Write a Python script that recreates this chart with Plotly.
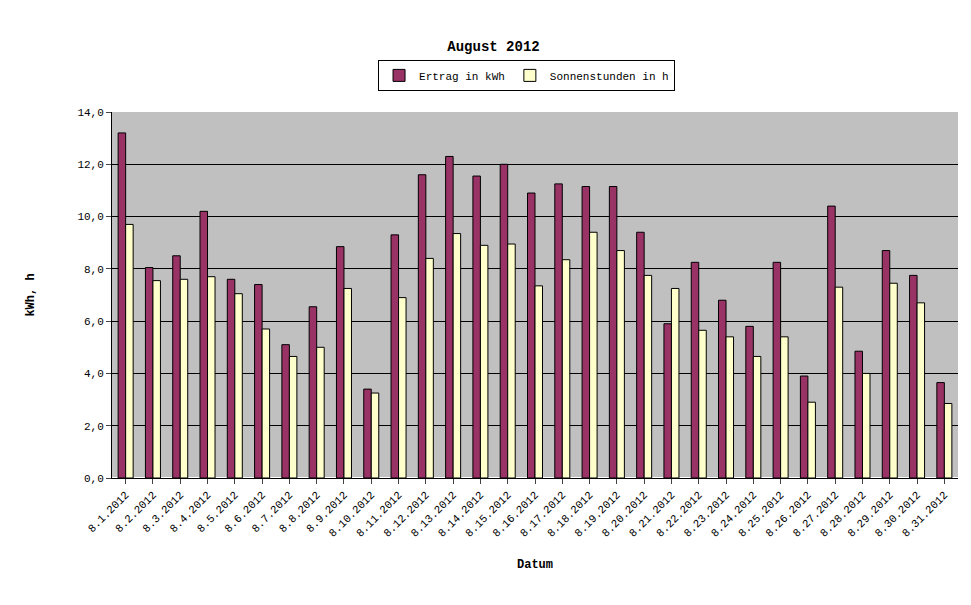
import plotly.graph_objects as go

days = ["8.%d.2012" % d for d in range(1, 32)]
ertrag = [13.2, 8.05, 8.5, 10.2, 7.6, 7.4, 5.1, 6.55, 8.85, 3.4, 9.3, 11.6, 12.3, 11.55, 12.0, 10.9,
          11.25, 11.15, 11.15, 9.4, 5.9, 8.25, 6.8, 5.8, 8.25, 3.9, 10.4, 4.85, 8.7, 7.75, 3.65]
sonne = [9.7, 7.55, 7.6, 7.7, 7.05, 5.7, 4.65, 5.0, 7.25, 3.25, 6.9, 8.4, 9.35, 8.9, 8.95, 7.35,
         8.35, 9.4, 8.7, 7.75, 7.25, 5.65, 5.4, 4.65, 5.4, 2.9, 7.3, 4.0, 7.45, 6.7, 2.85]
yticks = [0, 2, 4, 6, 8, 10, 12, 14]
yticklabels = ["0,0", "2,0", "4,0", "6,0", "8,0", "10,0", "12,0", "14,0"]

font = "Liberation Mono, Courier New, monospace"

fig = go.Figure()
fig.add_trace(go.Bar(x=days, y=ertrag, name="Ertrag in kWh",
                     marker=dict(color="#993366", line=dict(color="black", width=1))))
fig.add_trace(go.Bar(x=days, y=sonne, name="Sonnenstunden in h",
                     marker=dict(color="#FFFFCC", line=dict(color="black", width=1))))

fig.update_layout(
    width=971, height=605,
    paper_bgcolor="white", plot_bgcolor="#C0C0C0",
    font=dict(family=font, size=11, color="black"),
    title=dict(text="<b>August 2012</b>", x=0.5, xanchor="center", y=0.945,
               font=dict(family=font, size=14)),
    margin=dict(l=104, r=21, t=104, b=135),
    bargap=0.45, bargroupgap=0.0,
    legend=dict(orientation="h", x=0.49, xanchor="center", y=1.1, yanchor="middle",
                bordercolor="black", borderwidth=1, bgcolor="white",
                font=dict(family=font, size=11)),
    showlegend=True,
)
fig.update_xaxes(tickangle=-45, showline=True, linecolor="black", ticks="outside",
                 tickfont=dict(family=font, size=11),
                 title=dict(text="<b>Datum</b>", font=dict(family=font, size=12), standoff=20))
fig.update_yaxes(range=[0, 14], tickvals=yticks, ticktext=yticklabels,
                 showgrid=True, gridcolor="black", gridwidth=1,
                 showline=True, linecolor="black", ticks="outside",
                 tickfont=dict(family=font, size=11),
                 title=dict(text="<b>kWh, h</b>", font=dict(family=font, size=12), standoff=40))

fig.write_html("out.html")
